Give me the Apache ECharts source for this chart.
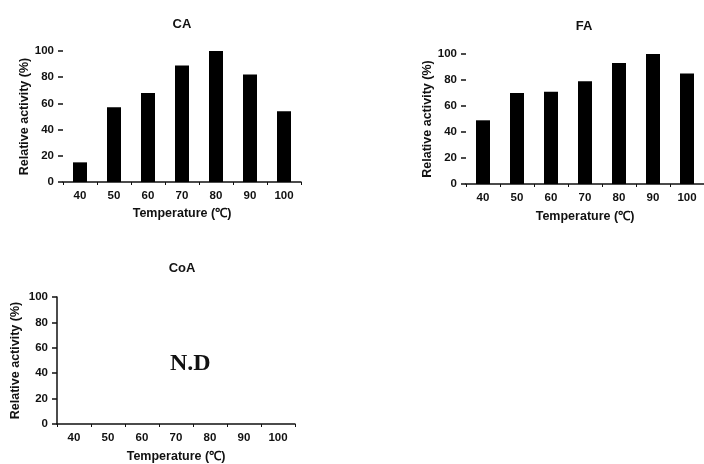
<!DOCTYPE html>
<html><head><meta charset="utf-8">
<script src="https://cdn.jsdelivr.net/npm/echarts@6/dist/echarts.min.js"></script>
<style>html,body{margin:0;padding:0;background:#fff}#c{width:704px;height:464px}</style>
</head><body><div id="c"></div>
<script>
const temperatures = ['40','50','60','70','80','90','100'];
const caValues = [15, 57, 68, 89, 100, 82, 54];
const faValues = [49, 70, 71, 79, 93, 100, 85];
const coaValues = []; // N.D (not detected)
const panelTitles = ['CA', 'FA', 'CoA'];
const yName = 'Relative activity (%)';
const xName = 'Temperature (\u2103)';

const chart = echarts.init(document.getElementById('c'), null, {renderer: 'canvas'});
const fontFamily = '"Liberation Sans", Arial, sans-serif';
const txt = '#111';
const grids = [
  {left: 63, top: 51, width: 238, height: 131},
  {left: 466, top: 54, width: 238, height: 130},
  {left: 57, top: 297, width: 238, height: 129}
];
const showYLine = [false, false, true];
const yGap = [31, 32, 35];
const xGap = [25, 26, 26];
function xAxis(i) {
  return {
    type: 'category', gridIndex: i, data: temperatures,
    axisLine: {show: true, lineStyle: {color: '#111', width: 1.5}},
    axisTick: {show: true, length: 3, lineStyle: {color: '#111'}},
    axisLabel: {color: txt, fontSize: 11.5, fontWeight: 'bold', fontFamily, margin: 8},
    name: xName, nameLocation: 'middle', nameGap: xGap[i],
    nameTextStyle: {color: txt, fontSize: 12.5, fontWeight: 'bold', fontFamily}
  };
}
function yAxis(i) {
  return {
    type: 'value', gridIndex: i, min: 0, max: 100, interval: 20,
    splitLine: {show: false},
    axisLine: {show: showYLine[i], lineStyle: {color: '#111', width: 1.5}},
    axisTick: {show: true, length: 5, lineStyle: {color: '#111', width: 1.5}},
    axisLabel: {color: txt, fontSize: 11.5, fontWeight: 'bold', fontFamily, margin: 9},
    name: yName, nameLocation: 'middle', nameGap: yGap[i], nameRotate: 90,
    nameTextStyle: {color: txt, fontSize: 12.5, fontWeight: 'bold', fontFamily}
  };
}
const titlePos = [[177, 13], [579, 15], [177, 257]];
chart.setOption({
  animation: false,
  title: panelTitles.map((t, i) => ({
    text: t, left: titlePos[i][0], top: titlePos[i][1], textAlign: 'center',
    textStyle: {color: txt, fontSize: 13, fontWeight: 'bold', fontFamily}
  })),
  grid: grids,
  xAxis: [0, 1, 2].map(xAxis),
  yAxis: [0, 1, 2].map(yAxis),
  series: [
    {type: 'bar', xAxisIndex: 0, yAxisIndex: 0, data: caValues, barWidth: 14, itemStyle: {color: '#000'}},
    {type: 'bar', xAxisIndex: 1, yAxisIndex: 1, data: faValues, barWidth: 14, itemStyle: {color: '#000'}},
    {type: 'bar', xAxisIndex: 2, yAxisIndex: 2, data: coaValues, barWidth: 14, itemStyle: {color: '#000'}}
  ],
  graphic: [{
    type: 'text', left: 170, top: 352,
    style: {text: 'N.D', fill: '#111', font: 'bold 24px "Liberation Serif", "Times New Roman", serif'}
  }]
});
</script></body></html>
